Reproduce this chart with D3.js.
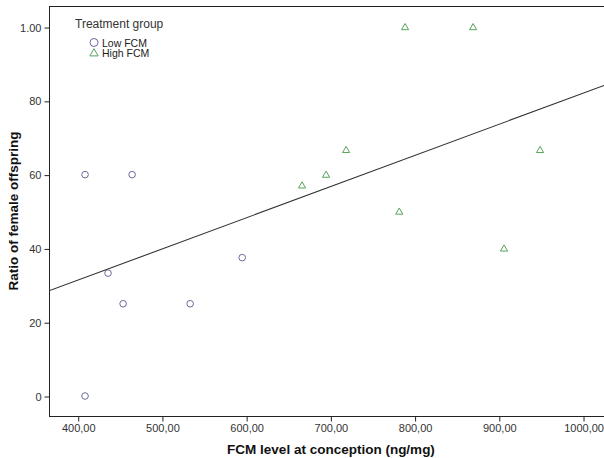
<!DOCTYPE html>
<html>
<head>
<meta charset="utf-8">
<script src="https://cdn.jsdelivr.net/npm/d3@7/dist/d3.min.js"></script>
<style>
  html, body { margin: 0; padding: 0; background: #fff; }
  svg { display: block; font-family: "Liberation Sans", Arial, sans-serif; }
</style>
</head>
<body>
<svg id="chart" width="604" height="458"></svg>
<script>
// FCM level at conception (ng/mg) and ratio of female offspring, per treatment group
const lowFcmX  = [408.7, 408.7, 436.0, 453.9, 464.6, 533.5, 595.3];
const lowFcmY  = [0, 60, 33.3, 25, 60, 25, 37.5];
const highFcmX = [666.4, 694.9, 718.7, 781.8, 788.7, 869.5, 906.2, 949.0];
const highFcmY = [57.1, 60, 66.7, 50, 100, 100, 40, 66.7];

const xTickValues = [400, 500, 600, 700, 800, 900, 1000];
const xTickLabels = ["400,00", "500,00", "600,00", "700,00", "800,00", "900,00", "1000,00"];
const yTickValues = [0, 20, 40, 60, 80, 100];
const yTickLabels = ["0", "20", "40", "60", "80", "1.00"];

const groupNames = ["Low FCM", "High FCM"];

const svg = d3.select("#chart");
const plotLeft = 49, plotTop = 6, plotRight = 604, plotBottom = 416;

const x = d3.scaleLinear().domain([365.9, 1024.9]).range([plotLeft, plotRight]);
const y = d3.scaleLinear().domain([-5.42, 105.7]).range([plotBottom, plotTop]);

// plot frame
svg.append("rect")
  .attr("x", plotLeft + 0.5).attr("y", plotTop + 0.5)
  .attr("width", plotRight - plotLeft + 2).attr("height", plotBottom - plotTop)
  .attr("fill", "none").attr("stroke", "#222").attr("stroke-width", 1);

// axes
const xAxis = d3.axisBottom(x).tickValues(xTickValues).tickSize(5).tickSizeOuter(0)
  .tickFormat((d, i) => xTickLabels[i]);
const gx = svg.append("g").attr("transform", `translate(0.5,${plotBottom + 0.5})`).call(xAxis);
gx.select(".domain").remove();
gx.selectAll("line").attr("stroke", "#222");
gx.selectAll("text").attr("fill", "#333").attr("font-size", 11).attr("dy", "0.9em").attr("y", 6);

const yAxis = d3.axisLeft(y).tickValues(yTickValues).tickSize(5).tickSizeOuter(0)
  .tickFormat((d, i) => yTickLabels[i]);
const gy = svg.append("g").attr("transform", `translate(${plotLeft + 0.5},0.5)`).call(yAxis);
gy.select(".domain").remove();
gy.selectAll("line").attr("stroke", "#222");
gy.selectAll("text").attr("fill", "#333").attr("font-size", 11).attr("x", -8);

// axis titles
svg.append("text")
  .attr("x", 331).attr("y", 454)
  .attr("text-anchor", "middle").attr("font-size", 13.5).attr("font-weight", "bold")
  .attr("fill", "#111")
  .text("FCM level at conception (ng/mg)");

svg.append("text")
  .attr("transform", `translate(18,${(plotTop + plotBottom) / 2}) rotate(-90)`)
  .attr("text-anchor", "middle").attr("font-size", 13.5).attr("font-weight", "bold")
  .attr("fill", "#111")
  .text("Ratio of female offspring");

// least-squares fit line over all observations
const allX = lowFcmX.concat(highFcmX);
const allY = lowFcmY.concat(highFcmY);
const mx = d3.mean(allX), my = d3.mean(allY);
const sxy = d3.sum(allX, (v, i) => (v - mx) * (allY[i] - my));
const sxx = d3.sum(allX, v => (v - mx) * (v - mx));
const slope = sxy / sxx, intercept = my - slope * mx;

svg.append("defs").append("clipPath").attr("id", "plotClip")
  .append("rect").attr("x", plotLeft).attr("y", plotTop)
  .attr("width", plotRight - plotLeft).attr("height", plotBottom - plotTop);

svg.append("line")
  .attr("clip-path", "url(#plotClip)")
  .attr("x1", x(x.domain()[0])).attr("y1", y(intercept + slope * x.domain()[0]))
  .attr("x2", x(x.domain()[1])).attr("y2", y(intercept + slope * x.domain()[1]))
  .attr("stroke", "#333").attr("stroke-width", 1.1);

// markers
const circleColor = "#6a6a9c";
const triColor = "#56a35c";
const tri = d3.symbol().type(d3.symbolTriangle).size(22);

svg.append("g").selectAll("circle")
  .data(lowFcmX.map((v, i) => [v, lowFcmY[i]]))
  .join("circle")
  .attr("cx", d => x(d[0])).attr("cy", d => y(d[1])).attr("r", 3.3)
  .attr("fill", "none").attr("stroke", circleColor).attr("stroke-width", 1);

svg.append("g").selectAll("path")
  .data(highFcmX.map((v, i) => [v, highFcmY[i]]))
  .join("path")
  .attr("d", tri)
  .attr("transform", d => `translate(${x(d[0])},${y(d[1]) + 0.6})`)
  .attr("fill", "none").attr("stroke", triColor).attr("stroke-width", 1);

// legend
const legend = svg.append("g");
legend.append("text").attr("x", 75).attr("y", 28).attr("font-size", 12).attr("fill", "#333")
  .text("Treatment group");
legend.append("circle").attr("cx", 94).attr("cy", 42.5).attr("r", 4)
  .attr("fill", "none").attr("stroke", circleColor).attr("stroke-width", 1);
legend.append("path").attr("d", d3.symbol().type(d3.symbolTriangle).size(30))
  .attr("transform", "translate(94,53.5)")
  .attr("fill", "none").attr("stroke", triColor).attr("stroke-width", 1);
legend.selectAll("text.item")
  .data(groupNames)
  .join("text").attr("class", "item")
  .attr("x", 102).attr("y", (d, i) => 46.5 + i * 10.5)
  .attr("font-size", 10.5).attr("fill", "#222")
  .text(d => d);
</script>
</body>
</html>
